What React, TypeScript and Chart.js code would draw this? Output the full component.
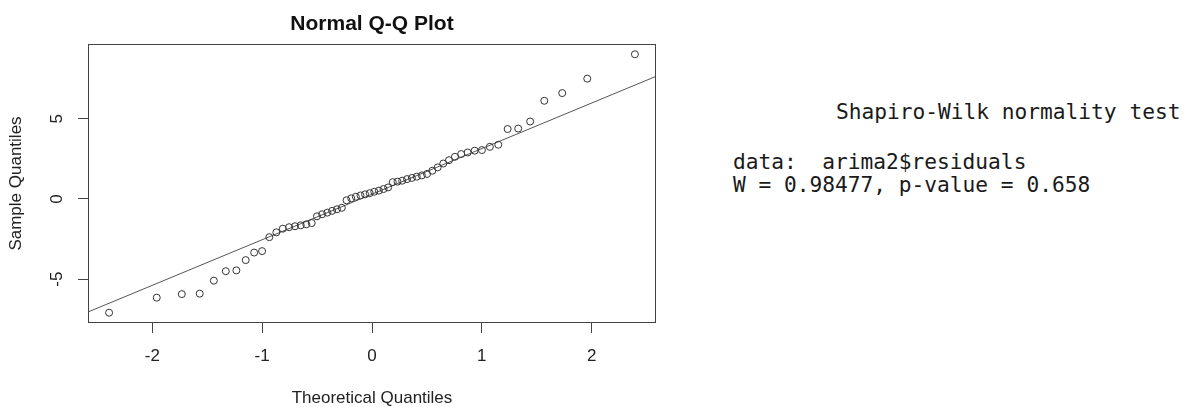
import React, { useEffect, useRef } from "react";
import { Chart, registerables } from "chart.js";

Chart.register(...registerables);

const TITLE = "Normal Q-Q Plot";
const X_TITLE = "Theoretical Quantiles";
const Y_TITLE = "Sample Quantiles";

const THEORETICAL_QUANTILES = [
  -2.394, -1.96, -1.732, -1.569, -1.44, -1.331, -1.235, -1.15, -1.073, -1.001,
  -0.935, -0.871, -0.812, -0.755, -0.701, -0.649, -0.598, -0.549, -0.501, -0.454,
  -0.407, -0.363, -0.319, -0.275, -0.232, -0.189, -0.147, -0.105, -0.063, -0.021,
  0.021, 0.063, 0.105, 0.147, 0.189, 0.232, 0.275, 0.319, 0.363, 0.407,
  0.454, 0.501, 0.549, 0.598, 0.649, 0.701, 0.755, 0.812, 0.871, 0.935,
  1.001, 1.073, 1.15, 1.235, 1.331, 1.44, 1.569, 1.732, 1.96, 2.394,
];

const SAMPLE_QUANTILES = [
  -7.09, -6.15, -5.93, -5.9, -5.09, -4.5, -4.45, -3.81, -3.34, -3.25,
  -2.38, -2.08, -1.85, -1.76, -1.7, -1.64, -1.58, -1.5, -1.08, -0.95,
  -0.85, -0.74, -0.64, -0.55, -0.08, 0.04, 0.14, 0.22, 0.29, 0.36,
  0.45, 0.52, 0.62, 0.72, 1.05, 1.08, 1.14, 1.24, 1.31, 1.39,
  1.47, 1.56, 1.76, 1.97, 2.21, 2.42, 2.63, 2.8, 2.9, 3.01,
  3.05, 3.25, 3.38, 4.36, 4.39, 4.83, 6.12, 6.6, 7.5, 9.02,
];

const X_TICKS = [-2, -1, 0, 1, 2];
const Y_TICKS = [-5, 0, 5];
const X_RANGE = [-2.586, 2.586];
const Y_RANGE = [-7.73, 9.66];

const QQLINE_X = [-2.7, 2.7];
const QQLINE_INTERCEPT = 0.3;
const QQLINE_SLOPE = 2.84;

const TEST_LINES = [
  "Shapiro-Wilk normality test",
  "data:  arima2$residuals",
  "W = 0.98477, p-value = 0.658",
];

const FONT = '"Liberation Sans", Arial, sans-serif';

const framePlugin = {
  id: "frame",
  afterDraw(chart: any) {
    const { ctx, chartArea: a, scales } = chart;
    ctx.save();
    ctx.strokeStyle = "#444";
    ctx.lineWidth = 1;
    const l = Math.round(a.left) + 0.5;
    const t = Math.round(a.top) + 0.5;
    const r = Math.round(a.right) - 0.5;
    const b = Math.round(a.bottom) - 0.5;
    ctx.strokeRect(l, t, r - l, b - t);
    ctx.fillStyle = "#222";
    ctx.font = "17px " + FONT;
    ctx.textAlign = "center";
    ctx.textBaseline = "middle";
    Y_TICKS.forEach((v) => {
      const y = scales.y.getPixelForValue(v);
      ctx.save();
      ctx.translate(57, y);
      ctx.rotate(-Math.PI / 2);
      ctx.fillText(String(v), 0, 0);
      ctx.restore();
    });
    ctx.restore();
  },
};

export default function App() {
  const canvasRef = useRef<HTMLCanvasElement | null>(null);

  useEffect(() => {
    if (!canvasRef.current) return;
    const points = THEORETICAL_QUANTILES.map((x, i) => ({ x, y: SAMPLE_QUANTILES[i] }));
    const line = QQLINE_X.map((x) => ({ x, y: QQLINE_INTERCEPT + QQLINE_SLOPE * x }));
    const chart = new Chart(canvasRef.current, {
      type: "scatter",
      data: {
        datasets: [
          {
            label: "points",
            data: points,
            showLine: false,
            pointStyle: "circle",
            pointRadius: 3.5,
            pointBorderWidth: 1,
            pointBorderColor: "#333",
            pointBackgroundColor: "rgba(0,0,0,0)",
          },
          {
            label: "qqline",
            data: line,
            showLine: true,
            pointRadius: 0,
            borderColor: "#555",
            borderWidth: 1,
            clip: 0,
          } as any,
        ],
      },
      plugins: [framePlugin],
      options: {
        animation: false,
        responsive: false,
        devicePixelRatio: 1,
        layout: { padding: { left: 0, right: 44, top: 0, bottom: 0 } },
        plugins: {
          legend: { display: false },
          tooltip: { enabled: false },
          title: {
            display: true,
            text: TITLE,
            fullSize: false,
            color: "#111",
            font: { family: FONT, size: 21, weight: "bold", lineHeight: 1.2 },
            padding: { top: 11.4, bottom: 7.4 },
          },
        },
        scales: {
          x: {
            type: "linear",
            min: X_RANGE[0],
            max: X_RANGE[1],
            afterBuildTicks: (scale: any) => {
              scale.ticks = X_TICKS.map((v) => ({ value: v }));
            },
            afterFit: (scale: any) => {
              scale.height = 84;
            },
            border: { display: false },
            grid: {
              display: true,
              drawOnChartArea: false,
              drawTicks: true,
              tickLength: 10,
              color: "#444",
              lineWidth: 1,
            },
            ticks: {
              color: "#222",
              font: { family: FONT, size: 17 },
              padding: 13.5,
              maxRotation: 0,
              minRotation: 0,
              callback: (v: any) => String(v),
            },
            title: {
              display: true,
              text: X_TITLE,
              color: "#222",
              font: { family: FONT, size: 17, lineHeight: 1 },
              padding: { top: 0, bottom: 0 },
            },
          },
          y: {
            type: "linear",
            min: Y_RANGE[0],
            max: Y_RANGE[1],
            afterBuildTicks: (scale: any) => {
              scale.ticks = Y_TICKS.map((v) => ({ value: v }));
            },
            afterFit: (scale: any) => {
              scale.width = 88;
            },
            border: { display: false },
            grid: {
              display: true,
              drawOnChartArea: false,
              drawTicks: true,
              tickLength: 10,
              color: "#444",
              lineWidth: 1,
            },
            ticks: { display: false },
            title: {
              display: true,
              text: Y_TITLE,
              color: "#222",
              font: { family: FONT, size: 17, lineHeight: 1.2 },
              padding: { top: 6, bottom: 0 },
            },
          },
        },
      },
    } as any);
    return () => chart.destroy();
  }, []);

  const mono = '"DejaVu Sans Mono", "Liberation Mono", monospace';
  const textStyle = (left: number, top: number): React.CSSProperties => ({
    position: "absolute",
    left,
    top,
    fontFamily: mono,
    fontSize: 21.2,
    lineHeight: "21px",
    whiteSpace: "pre",
    color: "#1a1a1a",
  });

  return (
    <div
      style={{
        position: "fixed",
        left: 0,
        top: 0,
        width: 1189,
        height: 407,
        background: "#fff",
        overflow: "hidden",
      }}
    >
      <canvas
        ref={canvasRef}
        width={700}
        height={407}
        style={{ position: "absolute", left: 0, top: 0, width: 700, height: 407 }}
      />
      <div style={textStyle(836, 101)}>{TEST_LINES[0]}</div>
      <div style={textStyle(733, 151)}>{TEST_LINES[1]}</div>
      <div style={textStyle(733, 174)}>{TEST_LINES[2]}</div>
    </div>
  );
}
